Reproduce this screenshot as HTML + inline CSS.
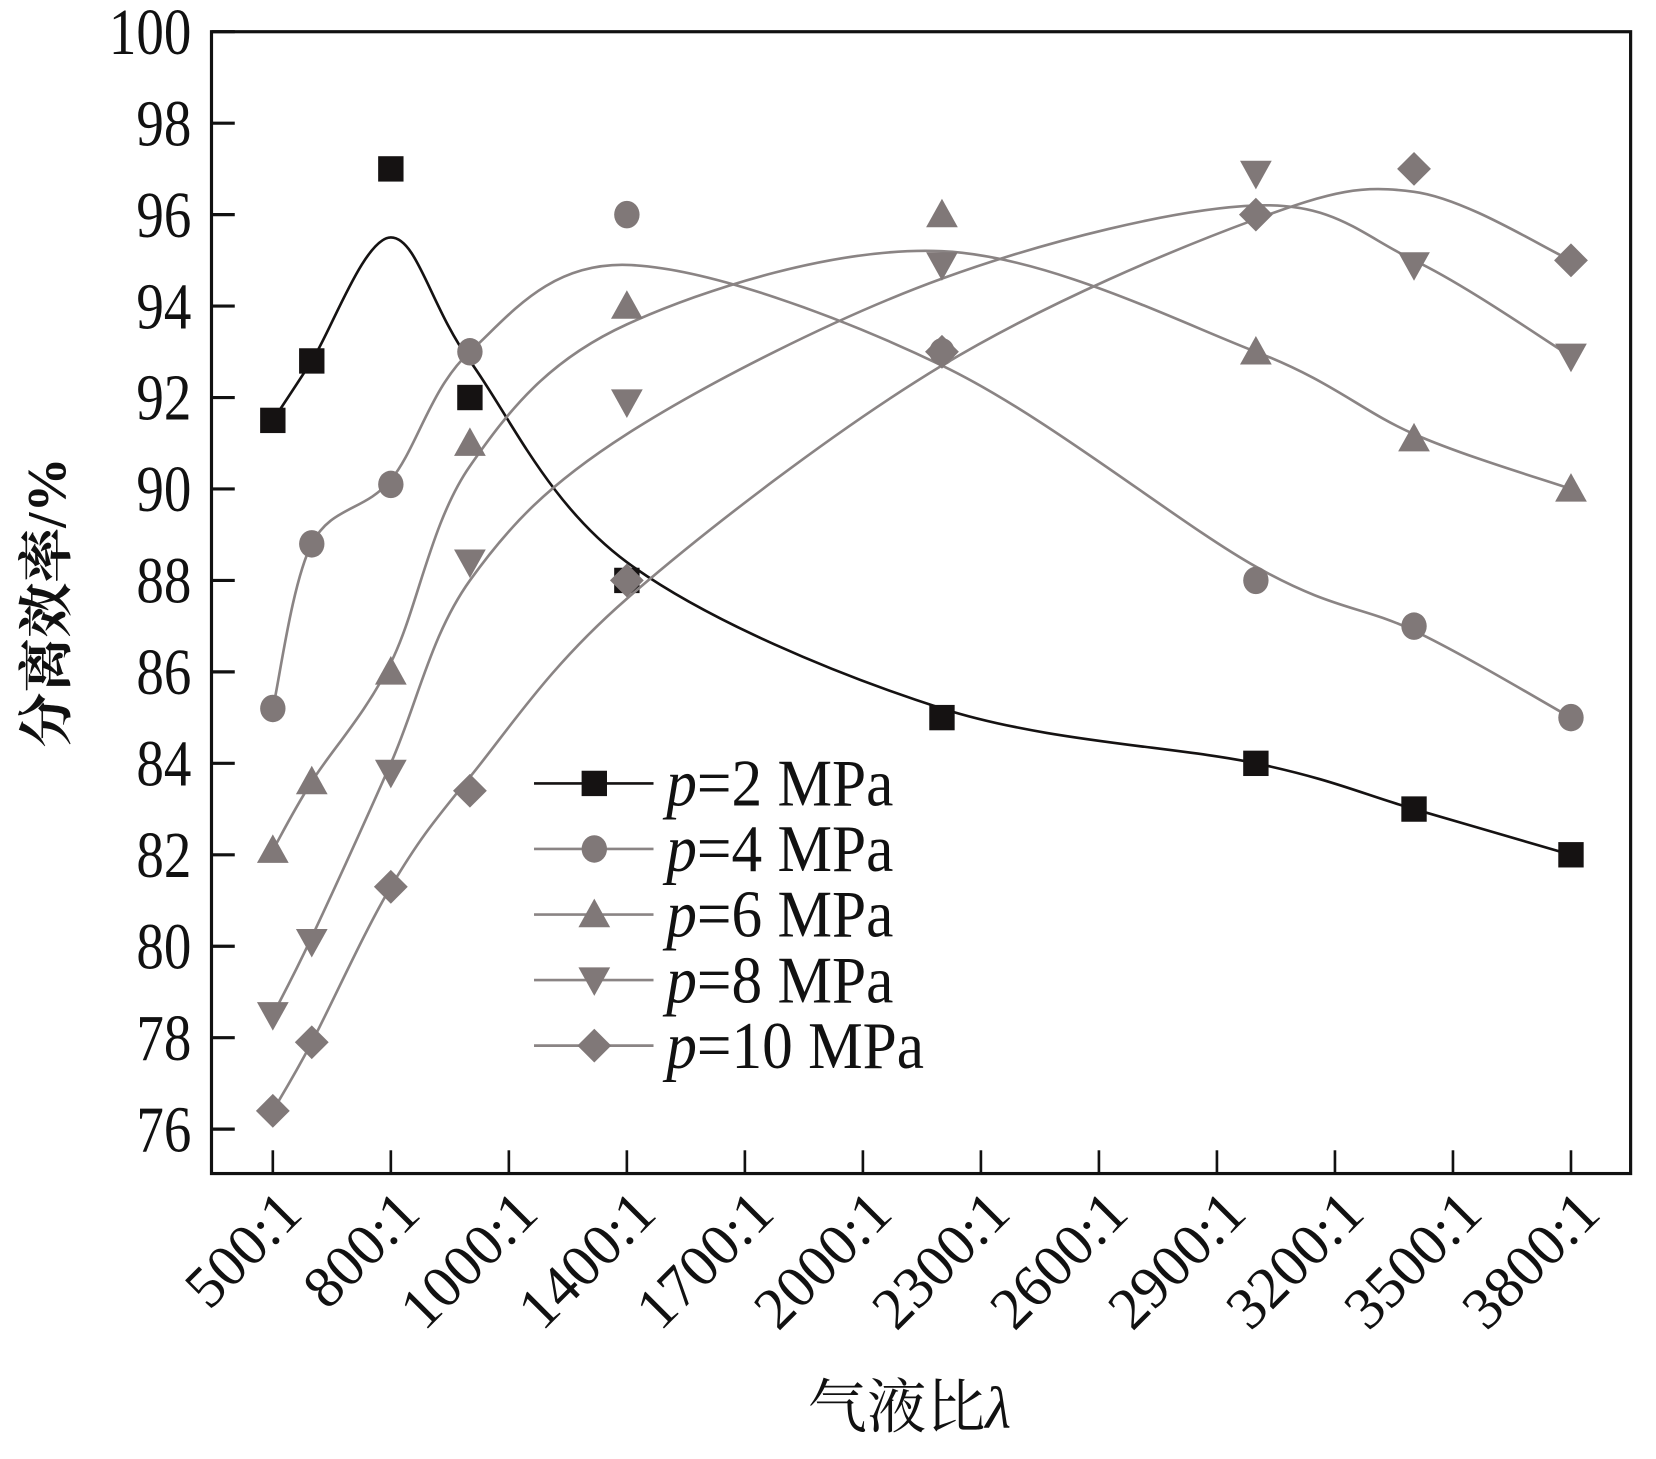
<!DOCTYPE html>
<html><head><meta charset="utf-8"><style>
html,body{margin:0;padding:0;background:#fff;}
svg{display:block;}
text{font-family:"Liberation Serif","Noto Serif CJK SC",serif;fill:#111;}
</style></head><body>
<svg id="chart" width="1656" height="1459" viewBox="0 0 1566 1380" preserveAspectRatio="none" xmlns="http://www.w3.org/2000/svg">
<g id="axes"></g>
<g id="series"></g>
<g id="legend"></g>
</svg>
<script>
const categories = ["500:1","800:1","1000:1","1400:1","1700:1","2000:1","2300:1","2600:1","2900:1","3200:1","3500:1","3800:1"];
const yTicks = [76,78,80,82,84,86,88,90,92,94,96,98,100];
const pointIdx = [0,0.33,1,1.67,3,5.67,8.33,9.67,11];
const seriesNames = ["p=2 MPa","p=4 MPa","p=6 MPa","p=8 MPa","p=10 MPa"];
const p2 = [91.5,92.8,97,92,88,85,84,83,82];
const p4 = [85.2,88.8,90.1,93,96,93,88,87,85];
const p6 = [82.1,83.6,86,91,94,96,93,91.1,90];
const p8 = [78.5,80.1,83.8,88.4,91.9,94.9,96.9,94.9,92.9];
const p10 = [76.4,77.9,81.3,83.4,88,93,96,97,95];
const fit2 = [91.5,92.8,95.5,92.8,88.4,85.2,84,83,82];
const fit4 = [85.2,88.8,90.2,93,94.9,92.7,88.3,86.9,85];
const fit6 = [82.1,83.6,86.2,90.5,93.6,95.2,93,91.2,90];
const fit8 = [78.5,80.2,84,88,91.2,94.6,96.2,95,92.9];
const fit10 = [76.4,77.9,81.3,83.7,87.6,92.7,95.9,96.5,95];

const L=200,R=1542,T=30,B=1110;
const X0=258,DX=111.6;
function xs(i){return X0+i*DX;}
function ys(v){return 30+(100-v)*43.25;}
const NS="http://www.w3.org/2000/svg";
function mk(tag,parent,attrs){const e=document.createElementNS(NS,tag);for(const k in attrs)e.setAttribute(k,attrs[k]);parent.appendChild(e);return e;}
const axes=document.getElementById('axes'),ser=document.getElementById('series'),leg=document.getElementById('legend');

const frame=mk('rect',axes,{x:L,y:T,width:R-L,height:B-T,fill:'none',stroke:'#111','stroke-width':3});


yTicks.forEach(v=>{
  const t=mk('line',axes,{x1:L,x2:L+22,y1:ys(v),y2:ys(v),stroke:'#111','stroke-width':3});
  
  
  const lb=mk('text',axes,{x:0,y:0,'text-anchor':'end','font-size':52,transform:`translate(181,${ys(v)+21}) scale(1,1.2)`});
  lb.textContent=v;
  
  
});
categories.forEach((c,i)=>{
  const t=mk('line',axes,{x1:xs(i),x2:xs(i),y1:B,y2:B-22,stroke:'#111','stroke-width':2.5});
  
  
  const lb=mk('text',axes,{x:0,y:0,'text-anchor':'end','font-size':56,transform:`translate(${xs(i)+30},${B+40}) rotate(-45)`});
  lb.textContent=c;
  
  
});
const yt=mk('text',axes,{x:0,y:0,'text-anchor':'middle','font-size':52,'font-weight':'bold',transform:'translate(62,570) rotate(-90)'});
yt.textContent='分离效率/%';


const xt=mk('text',axes,{x:860,y:1350,'text-anchor':'middle','font-size':56});
xt.innerHTML='气液比<tspan font-style="italic">λ</tspan>';



function path(vals){
  const p=pointIdx.map((i,k)=>[xs(i),ys(vals[k])]);
  let d=`M${p[0][0]},${p[0][1]}`;
  for(let i=0;i<p.length-1;i++){
    const p0=p[i-1]||p[i],p1=p[i],p2_=p[i+1],p3=p[i+2]||p2_;
    const c1=[p1[0]+(p2_[0]-p0[0])/6,p1[1]+(p2_[1]-p0[1])/6];
    const c2=[p2_[0]-(p3[0]-p1[0])/6,p2_[1]-(p3[1]-p1[1])/6];
    d+=` C${c1[0]},${c1[1]} ${c2[0]},${c2[1]} ${p2_[0]},${p2_[1]}`;
  }
  return d;
}
function marker(g,type,x,y,fill){
  let e;
  if(type==='square') e=mk('rect',g,{x:x-12,y:y-12,width:24,height:24,fill});
  else if(type==='circle') e=mk('ellipse',g,{cx:x,cy:y,rx:12,ry:13,fill});
  else if(type==='up') e=mk('polygon',g,{points:`${x},${y-15} ${x+15},${y+12} ${x-15},${y+12}`,fill});
  else if(type==='down') e=mk('polygon',g,{points:`${x-15},${y-12} ${x+15},${y-12} ${x},${y+15}`,fill});
  else e=mk('polygon',g,{points:`${x},${y-16} ${x+16},${y} ${x},${y+16} ${x-16},${y}`,fill});
  return e;
}
const S=[
 {vals:p2,fit:fit2,m:'square',fill:'#151212',line:'#151212'},
 {vals:p4,fit:fit4,m:'circle',fill:'#807878',line:'#8a8484'},
 {vals:p6,fit:fit6,m:'up',fill:'#807878',line:'#8a8484'},
 {vals:p8,fit:fit8,m:'down',fill:'#807878',line:'#8a8484'},
 {vals:p10,fit:fit10,m:'diamond',fill:'#807878',line:'#8a8484'}
];
S.forEach((s,si)=>{
  const g=mk('g',ser,{});
  
  
  const pl=mk('path',g,{d:path(s.fit),fill:'none',stroke:s.line,'stroke-width':2.5});
  
  
  s.vals.forEach((v,k)=>{
    const m=marker(g,s.m,xs(pointIdx[k]),ys(v),s.fill);
    
    
  });
  const ly=741+si*62;
  const lg=mk('g',leg,{});
  
  
  mk('line',lg,{x1:505,x2:618,y1:ly,y2:ly,stroke:s.line,'stroke-width':2.5});
  marker(lg,s.m,562,ly,s.fill);
  const t=mk('text',lg,{x:0,y:0,'font-size':58,transform:`translate(630,${ly+21}) scale(1,1.08)`});
  t.innerHTML='<tspan font-style="italic">p</tspan>'+seriesNames[si].slice(1);
});
</script>
</body></html>
